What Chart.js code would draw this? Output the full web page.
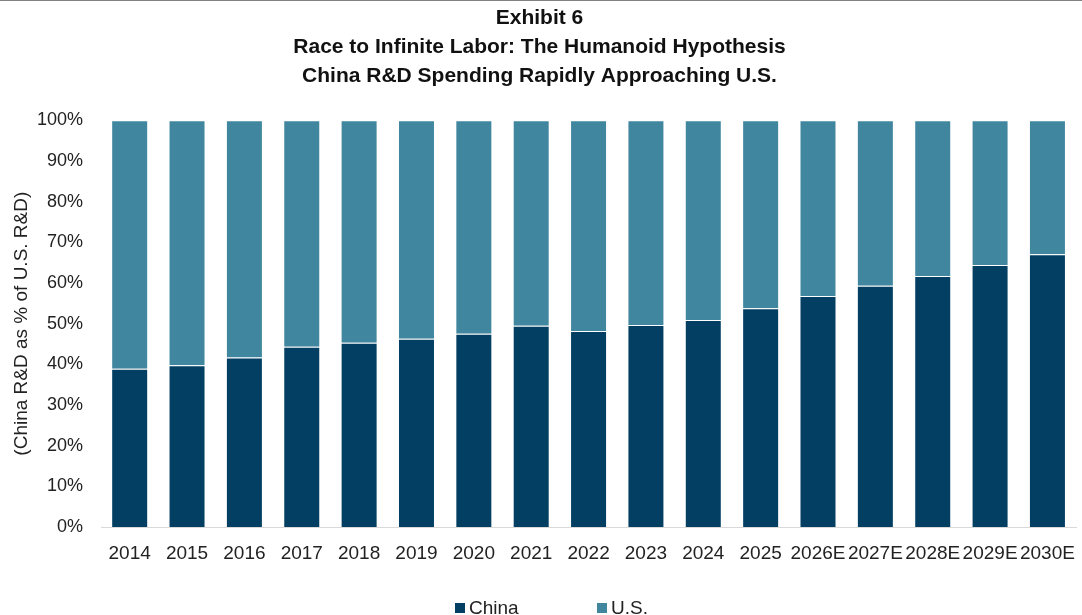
<!DOCTYPE html>
<html>
<head>
<meta charset="utf-8">
<script src="https://cdn.jsdelivr.net/npm/chart.js@4"></script>
<style>
 html,body{margin:0;padding:0;background:#fff;}
 #wrap{position:relative;width:1082px;height:615px;overflow:hidden;font-family:"Liberation Sans",Arial,sans-serif;}
 #topline{position:absolute;left:0;top:0;width:1082px;height:1px;background:#808080;}
 #legend{position:absolute;top:597px;left:0;width:1082px;height:22px;font-size:19px;color:#222;}
 #legend span.item{position:absolute;top:0;line-height:22px;white-space:nowrap;}
 #legend i{display:inline-block;width:10px;height:10px;margin-right:4px;vertical-align:middle;position:relative;top:-1px;}
</style>
</head>
<body>
<div id="wrap">
 <canvas id="chart"></canvas>
 <div id="topline"></div>
 <div id="legend"></div>
</div>
<script>
// data (China R&D as % of U.S. R&D)
const years=["2014","2015","2016","2017","2018","2019","2020","2021","2022","2023","2024","2025","2026E","2027E","2028E","2029E","2030E"];
const china=[38.9,39.8,41.7,44.3,45.3,46.3,47.5,49.5,48.2,49.7,50.9,53.8,56.8,59.3,61.7,64.4,67.1];
const us=china.map(v=>+(100-v).toFixed(1));
const yTicks=[0,10,20,30,40,50,60,70,80,90,100];

const titleLines=["Exhibit 6","Race to Infinite Labor: The Humanoid Hypothesis","China R&D Spending Rapidly Approaching U.S."];
const seriesNames=["China","U.S."];
const colors=["#033f62","#41869f"];

const font="'Liberation Sans', Arial, sans-serif";

// html legend
let lg=document.getElementById("legend");
[455,597].forEach((x,i)=>{
 let s=document.createElement("span");
 s.className="item";
 s.style.left=x+"px";
 s.innerHTML='<i style="background:'+colors[i]+'"></i>'+seriesNames[i];
 lg.appendChild(s);
});

new Chart(document.getElementById("chart"),{
 type:"bar",
 data:{
  labels:years,
  datasets:[
   {label:seriesNames[0],data:china,backgroundColor:colors[0],borderColor:"rgba(255,255,255,0.3)",borderWidth:1},
   {label:seriesNames[1],data:us,backgroundColor:colors[1],borderColor:"rgba(255,255,255,0.3)",borderWidth:1}
  ]
 },
 options:{
  responsive:true,
  maintainAspectRatio:false,
  animation:false,
  layout:{padding:{left:0,right:3,top:0,bottom:48}},
  datasets:{bar:{categoryPercentage:1,barPercentage:0.645}},
  plugins:{
   legend:{display:false},
   tooltip:{enabled:false},
   title:{
    display:true,
    text:titleLines,
    color:"#111",
    font:{family:font,size:21,weight:"bold",lineHeight:1.38},
    padding:{top:3.5,bottom:29.9}
   }
  },
  scales:{
   x:{
    stacked:true,
    grid:{display:false},
    border:{display:true,color:"#d9d9d9",width:1},
    ticks:{color:"#222",font:{family:font,size:19},padding:7,maxRotation:0,autoSkip:false},
    afterFit:s=>{s.height=40;}
   },
   y:{
    stacked:true,
    min:0,max:100,
    grid:{display:false},
    border:{display:false},
    afterBuildTicks:s=>{s.ticks=yTicks.map(v=>({value:v}));},
    ticks:{color:"#222",font:{family:font,size:18},padding:10,callback:v=>v+"%"},
    title:{display:true,text:"(China R&D as % of U.S. R&D)",color:"#222",font:{family:font,size:19},padding:{top:10,bottom:0}},
    afterFit:s=>{s.width=101;}
   }
  }
 }
});
</script>
</body>
</html>
